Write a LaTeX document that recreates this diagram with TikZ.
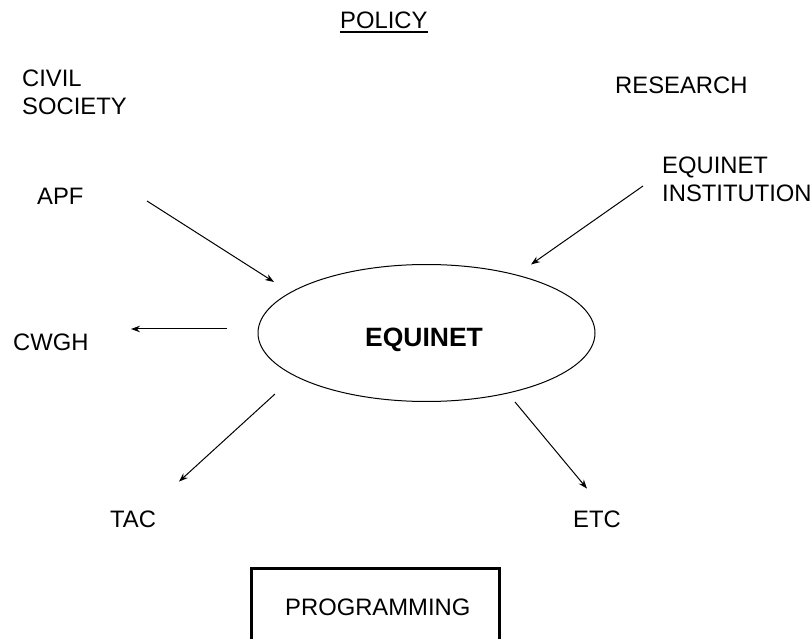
\documentclass[tikz,border=0pt]{standalone}
\usepackage{fontspec}
\setmainfont{Liberation Sans}
\usetikzlibrary{arrows.meta,shapes.geometric}
\begin{document}
\begin{tikzpicture}[x=1pt,y=-1pt,
  lbl/.style={anchor=base west,inner sep=0pt,font=\fontsize{23.8}{28}\selectfont},
  hub/.style={draw,ellipse,line width=1pt,minimum width=337pt,minimum height=137pt,inner sep=0pt},
  link/.style={line width=1pt,-{Stealth[length=9pt,width=6.5pt]}},
  frame/.style={line width=3pt,line join=miter}]
  \useasboundingbox (0,0) rectangle (812,639);
  \begin{scope}
    \clip (0,0) rectangle (812,639);

    % headings
    \node[lbl] (policy) at (340,29) {POLICY};
    \draw[line width=1.5pt] ([yshift=-3pt]policy.base west) -- ([yshift=-3pt]policy.base east);
    \node[lbl] (civil) at (22,86.5) {CIVIL};
    \node[lbl] (society) at (22,115) {SOCIETY};
    \node[lbl] (research) at (615,94) {RESEARCH};

    % central hub
    \node[hub] (hubshape) at (426.5,333) {};
    \node[anchor=base,inner sep=0pt,font=\fontsize{26.5}{30}\selectfont\bfseries] (equinet) at (424,346) {EQUINET};

    % partners
    \node[lbl] (eq1) at (662,173.5) {EQUINET};
    \node[lbl] (eq2) at (662,202) {INSTITUTION};
    \node[lbl] (apf) at (37,205) {APF};
    \node[lbl] (cwgh) at (13,351) {CWGH};
    \node[lbl] (tac) at (110,527) {TAC};
    \node[lbl] (etc) at (573,527) {ETC};

    % arrow end points
    \coordinate (apfA) at (147,201);   \coordinate (apfB) at (274,282);
    \coordinate (eqA)  at (643,186);   \coordinate (eqB)  at (531,264.5);
    \coordinate (cwA)  at (227,329);   \coordinate (cwB)  at (131,329);
    \coordinate (tacA) at (275,394);   \coordinate (tacB) at (179,481.6);
    \coordinate (etcA) at (515,402);   \coordinate (etcB) at (587,488.6);

    \draw[link] (apfA) -- (apfB);
    \draw[link] (eqA) -- (eqB);
    \draw[link] (cwA) -- (cwB);
    \draw[link] (tacA) -- (tacB);
    \draw[link] (etcA) -- (etcB);

    % programming box, open at the bottom edge
    \coordinate (boxBL) at (251,660);
    \coordinate (boxTR) at (499,568);
    \coordinate (boxBR) at (499,660);
    \draw[frame] (boxBL) |- (boxTR) -- (boxBR);
    \node[lbl] (prog) at (285,615.5) {PROGRAMMING};
  \end{scope}
\end{tikzpicture}
\end{document}
